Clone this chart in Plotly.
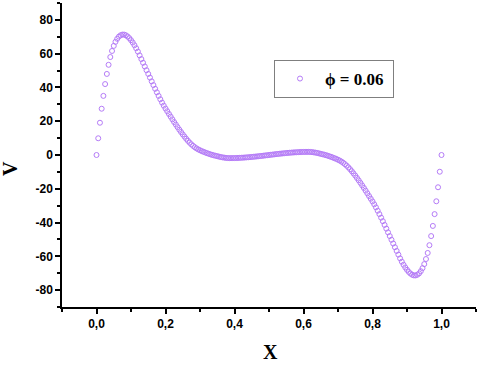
import plotly.graph_objects as go

# x positions: regular sampling step 0.005 from 0 to 1
x_vals = [round(i * 0.005, 3) for i in range(201)]

v_left = [
    0.0, 9.9, 19.1, 27.4, 35.0, 42.0, 48.0, 53.4, 58.0, 61.6,
    64.6, 67.0, 68.8, 70.1, 70.9, 71.3, 71.3, 70.9, 70.2, 69.2,
    68.0, 66.6, 65.0, 63.2, 61.2, 59.0, 56.8, 54.6, 52.4, 50.2,
    48.0, 45.8, 43.6, 41.4, 39.2, 37.1, 35.0, 33.0, 31.0, 29.2,
    27.5, 25.9, 24.3, 22.7, 21.1, 19.5, 18.0, 16.5, 15.0, 13.6,
    12.2, 10.9, 9.6, 8.4, 7.3, 6.3, 5.4, 4.6, 3.9, 3.3,
    2.8, 2.3, 1.9, 1.5, 1.1, 0.75, 0.4, 0.1, -0.2, -0.45,
    -0.7, -0.95, -1.2, -1.4, -1.55, -1.7, -1.8, -1.85, -1.85, -1.83,
    -1.81, -1.78, -1.74, -1.69, -1.63, -1.57, -1.50, -1.42, -1.34, -1.25,
    -1.15, -1.05, -0.95, -0.84, -0.73, -0.61, -0.50, -0.37, -0.25, -0.13,
    0.0,
]

v_right = [
    0.13, 0.25, 0.37, 0.50, 0.61, 0.73, 0.84, 0.95, 1.05, 1.15,
    1.25, 1.34, 1.42, 1.50, 1.57, 1.63, 1.69, 1.74, 1.78, 1.81,
    1.83, 1.85, 1.85, 1.8, 1.7, 1.55, 1.4, 1.2, 0.95, 0.7,
    0.45, 0.2, -0.1, -0.4, -0.75, -1.1, -1.5, -1.9, -2.3, -2.8,
    -3.3, -3.9, -4.6, -5.4, -6.3, -7.3, -8.4, -9.6, -10.9, -12.2,
    -13.6, -15.0, -16.5, -18.0, -19.5, -21.1, -22.7, -24.3, -25.9, -27.5,
    -29.2, -31.0, -33.0, -35.0, -37.1, -39.2, -41.4, -43.6, -45.8, -48.0,
    -50.2, -52.4, -54.6, -56.8, -59.0, -61.2, -63.2, -65.0, -66.6, -68.0,
    -69.2, -70.2, -70.9, -71.3, -71.3, -70.9, -70.1, -68.8, -67.0, -64.6,
    -61.6, -58.0, -53.4, -48.0, -42.0, -35.0, -27.4, -19.1, -9.9, 0.0,
]

v_vals = v_left + v_right

x_tickvals = [0.0, 0.2, 0.4, 0.6, 0.8, 1.0]
x_ticktext = ["0,0", "0,2", "0,4", "0,6", "0,8", "1,0"]
y_tickvals = [-80, -60, -40, -20, 0, 20, 40, 60, 80]
y_ticktext = ["-80", "-60", "-40", "-20", "0", "20", "40", "60", "80"]

series_name = "\u03d5 = 0.06\u00a0"
color = "#b57cf7"

L, R, T, B = 62, 4, 3, 58
W, H = 480, 365
plot_w = W - L - R
plot_h = H - T - B

fig = go.Figure()
fig.add_trace(go.Scatter(
    x=x_vals, y=v_vals, mode="markers", name=series_name,
    marker=dict(symbol="circle-open", size=5, color=color, line=dict(width=1, color=color)),
    showlegend=True,
))

tick_font = dict(family="Liberation Sans, Arial", size=12, color="black", weight="bold")
serif_bold = dict(family="Liberation Serif, Times New Roman", size=20, color="black", weight="bold")

fig.update_layout(
    width=W, height=H,
    margin=dict(l=L, r=R, t=T, b=B),
    paper_bgcolor="white", plot_bgcolor="white",
    showlegend=True,
    legend=dict(
        x=(274 - L) / plot_w, y=(H - B - 60) / plot_h, xanchor="left", yanchor="top",
        bordercolor="#7f7f7f", borderwidth=1, bgcolor="white",
        font=dict(family="Liberation Serif, Times New Roman", size=17, color="black", weight="bold"),
        itemwidth=40,
    ),
    xaxis=dict(
        range=[-0.1, 1.1], tickvals=x_tickvals, ticktext=x_ticktext,
        showline=True, linecolor="black", linewidth=1.5, mirror=False,
        ticks="outside", ticklen=5, tickwidth=1.5, tickcolor="black",
        minor=dict(dtick=0.1, tick0=0, ticks="outside", ticklen=3, tickwidth=1.5, tickcolor="black"),
        showgrid=False, zeroline=False, tickfont=tick_font, automargin=False,
    ),
    yaxis=dict(
        range=[-90, 90], tickvals=y_tickvals, ticktext=y_ticktext,
        showline=True, linecolor="black", linewidth=1.5, mirror=False,
        ticks="outside", ticklen=5, tickwidth=1.5, tickcolor="black",
        minor=dict(dtick=10, tick0=0, ticks="outside", ticklen=3, tickwidth=1.5, tickcolor="black"),
        showgrid=False, zeroline=False, tickfont=tick_font, automargin=False,
    ),
    annotations=[
        dict(text="X", xref="paper", yref="paper",
             x=(270 - L) / plot_w, y=(H - B - 352) / plot_h,
             xanchor="center", yanchor="middle", showarrow=False, font=serif_bold),
        dict(text="V", xref="paper", yref="paper",
             x=(10 - L) / plot_w, y=(H - B - 169) / plot_h,
             xanchor="center", yanchor="middle", showarrow=False, textangle=-90, font=serif_bold),
    ],
)

fig.write_html("out.html", config={"displayModeBar": False},
               post_script="document.body.style.margin='0';")
